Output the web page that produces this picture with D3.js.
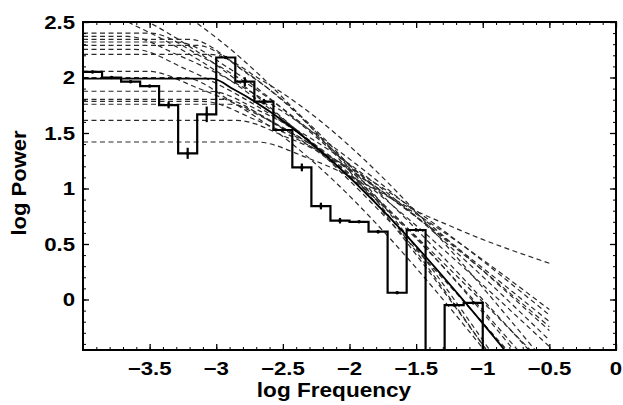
<!DOCTYPE html>
<html><head><meta charset="utf-8">
<script src="https://cdn.jsdelivr.net/npm/d3@7"></script>
<style>body{margin:0;background:#fff} svg{display:block}</style>
</head><body>
<svg id="chart" width="623" height="405"></svg>
<script>
// ---- data ----
const binEdges = [-4, -3.857, -3.714, -3.571, -3.429, -3.286, -3.143, -3, -2.857, -2.714, -2.571,
                  -2.429, -2.286, -2.143, -2, -1.857, -1.714, -1.571, -1.429, -1.286, -1.143, -1];
const binPower = [2.05, 2.00, 1.962, 1.923, 1.752, 1.317, 1.668, 2.18, 1.962, 1.782, 1.527,
                  1.19, 0.842, 0.71, 0.70, 0.611, 0.061, 0.626, -1.2, -0.05, -0.03];
const binError = [0.01, 0.01, 0.01, 0.01, 0.03, 0.05, 0.07, 0.01, 0.04, 0.025, 0.01,
                  0.035, 0.03, 0.025, 0.01, 0.015, 0.01, 0.01, 0, 0.01, 0.01];
const fitCurve = [[-4, 1.99], [-3.03, 1.99], [-2.87, 1.894], [-0.5, -0.95]];
const modelCurves = [
  [[-4, 2.9], [-3.75, 2.9], [-3.35, 2.65], [-0.5, -1.25]],
  [[-4, 2.75], [-3.95, 2.75], [-3.55, 2.526], [-0.5, -0.89]],
  [[-4.4, 2.65], [-3.98, 2.65], [-3.58, 2.45], [-0.5, -0.63]],
  [[-4, 2.40], [-3.5, 2.40], [-3.1, 2.181], [-0.5, -0.66]],
  [[-4, 2.37], [-3.667, 2.37], [-3.267, 2.191], [-0.5, -0.28]],
  [[-4, 2.344], [-3.2, 2.344], [-2.8, 2.068], [-0.5, -1.30]],
  [[-4, 2.32], [-3.3, 2.32], [-2.9, 2.08], [-2.375, 1.59], [-2.15, 1.36], [-1.7, 0.93], [-1.2, 0.64], [-0.5, 0.326]],
  [[-4, 2.29], [-3.15, 2.29], [-2.75, 2.02], [-0.5, -1.25]],
  [[-4, 2.254], [-3.62, 2.254], [-3.22, 2.071], [-0.5, -0.424]],
  [[-4, 2.209], [-3.05, 2.209], [-2.65, 1.969], [-0.5, -0.611]],
  [[-4, 2.056], [-3.52, 2.056], [-3.12, 1.896], [-0.5, -0.199]],
  [[-4, 2.0], [-3.25, 2.0], [-2.85, 1.756], [-0.5, -1.2]],
  [[-4, 1.876], [-3.05, 1.876], [-2.65, 1.685], [-0.5, -0.366]],
  [[-4, 1.803], [-2.95, 1.803], [-2.55, 1.573], [-0.5, -0.785]],
  [[-4, 1.785], [-3.1, 1.785], [-2.7, 1.616], [-0.5, -0.245]],
  [[-4, 1.759], [-2.9, 1.759], [-2.5, 1.549], [-0.5, -0.85]],
  [[-4, 1.614], [-2.85, 1.614], [-2.45, 1.451], [-0.5, -0.140]],
  [[-4, 1.419], [-2.7, 1.419], [-2.3, 1.268], [-0.5, -0.091]]
];
const xTicks = [-3.5, -3, -2.5, -2, -1.5, -1, -0.5, 0];
const xTickLabels = ["\u22123.5", "\u22123", "\u22122.5", "\u22122", "\u22121.5", "\u22121", "\u22120.5", "0"];
const yTicks = [0, 0.5, 1, 1.5, 2, 2.5];
const yTickLabels = ["0", "0.5", "1", "1.5", "2", "2.5"];
const xTitle = "log Frequency";
const yTitle = "log Power";

// ---- layout ----
const L = 83, R = 616, T = 22, B = 350;
const x = d3.scaleLinear().domain([-4, 0]).range([L, R]);
const y = d3.scaleLinear().domain([-0.455, 2.5]).range([B, T]);
const svg = d3.select("#chart");
const FONT = "'Liberation Sans', Arial, Helvetica, sans-serif";

svg.append("defs").append("clipPath").attr("id", "plotclip")
  .append("rect").attr("x", L).attr("y", T).attr("width", R - L).attr("height", B - T);
const plot = svg.append("g").attr("clip-path", "url(#plotclip)");

// dashed model curves
const curveLine = d3.line().x(d => x(d[0])).y(d => y(d[1])).curve(d3.curveMonotoneX);
plot.selectAll("path.model").data(modelCurves).enter().append("path")
  .attr("class", "model").attr("d", curveLine)
  .attr("fill", "none").attr("stroke", "#2a2a2a").attr("stroke-width", 1.2)
  .attr("stroke-dasharray", "5,3.5");

// fit curve
plot.append("path").datum(fitCurve).attr("d", curveLine)
  .attr("fill", "none").attr("stroke", "#000").attr("stroke-width", 1.8);

// histogram steps
const stepPts = [];
binPower.forEach((v, i) => { stepPts.push([binEdges[i], v]); stepPts.push([binEdges[i + 1], v]); });
stepPts.push([binEdges[binEdges.length - 1], -1.2]);
plot.append("path").datum(stepPts)
  .attr("d", d3.line().x(d => x(d[0])).y(d => y(d[1])))
  .attr("fill", "none").attr("stroke", "#000").attr("stroke-width", 2.2).attr("stroke-linejoin", "miter");

// error bars
const centers = binPower.map((v, i) => ({c: (binEdges[i] + binEdges[i + 1]) / 2, v, e: binError[i]}));
plot.selectAll("line.err").data(centers).enter().append("line")
  .attr("x1", d => x(d.c)).attr("x2", d => x(d.c))
  .attr("y1", d => y(d.v - d.e)).attr("y2", d => y(d.v + d.e))
  .attr("stroke", "#000").attr("stroke-width", 2.2);
plot.selectAll("circle.pt").data(centers).enter().append("circle")
  .attr("cx", d => x(d.c)).attr("cy", d => y(d.v)).attr("r", 1.8).attr("fill", "#000");

// axes frame & ticks (inward, all four sides)
const xMinor = d3.range(-40, 1).map(v => v / 10);
const yMinor = d3.range(-4, 26).map(v => v / 10);
function addAxis(axisFn, scale, major, minor, tr) {
  svg.append("g").attr("transform", tr)
    .call(axisFn(scale).tickValues(minor).tickSize(-3).tickFormat("").tickSizeOuter(0))
    .call(g => g.select(".domain").remove())
    .call(g => g.selectAll("line").attr("stroke", "#000").attr("stroke-width", 1));
  svg.append("g").attr("transform", tr)
    .call(axisFn(scale).tickValues(major).tickSize(-6).tickFormat("").tickSizeOuter(0))
    .call(g => g.select(".domain").remove())
    .call(g => g.selectAll("line").attr("stroke", "#000").attr("stroke-width", 1.3));
}
addAxis(d3.axisBottom, x, xTicks, xMinor, `translate(0,${B})`);
addAxis(d3.axisTop, x, xTicks, xMinor, `translate(0,${T})`);
addAxis(d3.axisLeft, y, yTicks, yMinor, `translate(${L},0)`);
addAxis(d3.axisRight, y, yTicks, yMinor, `translate(${R},0)`);
svg.append("rect").attr("x", L).attr("y", T).attr("width", R - L).attr("height", B - T)
  .attr("fill", "none").attr("stroke", "#000").attr("stroke-width", 2);

// tick labels
svg.selectAll("text.xt").data(xTicks).enter().append("text")
  .attr("transform", d => `translate(${x(d)},375) scale(1.17,1)`)
  .attr("text-anchor", "middle").attr("font-family", FONT).attr("font-weight", "bold")
  .attr("font-size", 19).text((d, i) => xTickLabels[i]);
svg.selectAll("text.yt").data(yTicks).enter().append("text")
  .attr("transform", d => `translate(75,${y(d) + 7}) scale(1.17,1)`)
  .attr("text-anchor", "end").attr("font-family", FONT).attr("font-weight", "bold")
  .attr("font-size", 19).text((d, i) => yTickLabels[i]);

// axis titles
svg.append("text").attr("transform", `translate(334,397) scale(1.13,1)`)
  .attr("text-anchor", "middle").attr("font-family", FONT).attr("font-weight", "bold")
  .attr("font-size", 20).text(xTitle);
svg.append("text").attr("transform", `translate(26,${(T + B) / 2 - 3}) rotate(-90) scale(1.1,1)`)
  .attr("text-anchor", "middle").attr("font-family", FONT).attr("font-weight", "bold")
  .attr("font-size", 20).text(yTitle);
</script>
</body></html>
